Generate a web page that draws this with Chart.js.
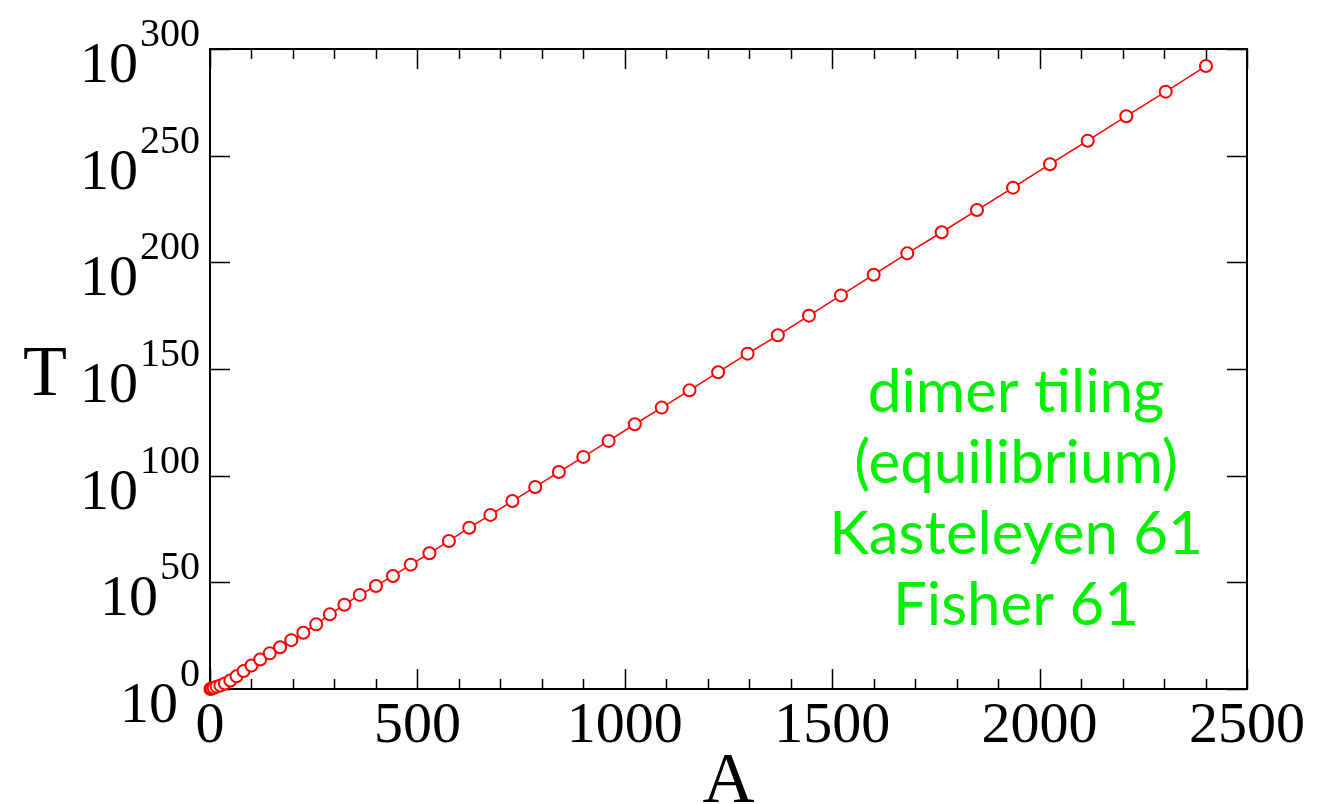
<!DOCTYPE html>
<html>
<head>
<meta charset="utf-8">
<script src="https://cdn.jsdelivr.net/npm/chart.js@4.4.1/dist/chart.umd.min.js"></script>
<style>
  html, body { margin: 0; padding: 0; background: #ffffff; }
  #box { width: 1339px; height: 804px; }
</style>
</head>
<body>
<div id="box"><canvas id="grafico"></canvas></div>
<script>
// area A = L*L of the lattice, L = 1..49
var areaA = [1, 4, 9, 16, 25, 36, 49, 64, 81, 100,
             121, 144, 169, 196, 225, 256, 289, 324, 361, 400,
             441, 484, 529, 576, 625, 676, 729, 784, 841, 900,
             961, 1024, 1089, 1156, 1225, 1296, 1369, 1444, 1521, 1600,
             1681, 1764, 1849, 1936, 2025, 2116, 2209, 2304, 2401];
// exponent of T (T = 10^x)
var esponenteT = [0, 0.3, 0.6, 1.1, 1.6, 2.6, 4.0, 6.0, 8.4, 11.0,
                  13.8, 16.7, 19.6, 22.9, 26.4, 30.3, 35.0, 39.5, 44.1, 48.3,
                  53.0, 58.3, 63.6, 69.4, 75.6, 81.6, 88.1, 94.7, 101.7, 108.8,
                  116.3, 124.1, 131.9, 140.0, 148.5, 157.2, 165.8, 175.0, 184.5, 194.2,
                  204.2, 214.1, 224.5, 235.0, 246.0, 257.0, 268.5, 280.0, 292.0];
var tickX = [0, 500, 1000, 1500, 2000, 2500];
var tickXMinori = [100, 200, 300, 400, 600, 700, 800, 900, 1100, 1200, 1300, 1400,
                   1600, 1700, 1800, 1900, 2100, 2200, 2300, 2400];
var esponentiY = [0, 50, 100, 150, 200, 250, 300];
var testoVerde = ['dimer tiling', '(equilibrium)', 'Kasteleyen 61', 'Fisher 61'];

var punti = [];
for (var i = 0; i < areaA.length; i++) {
    punti.push({ x: areaA[i], y: Math.pow(10, esponenteT[i]) });
}

var serif = '"Liberation Serif", "DejaVu Serif", serif';

// frame and inward ticks, drawn under the points
var cornice = {
    id: 'cornice',
    beforeDatasetsDraw: function (chart) {
        var ctx = chart.ctx;
        var a = chart.chartArea;
        var sx = chart.scales.x;
        var sy = chart.scales.y;
        ctx.save();
        ctx.strokeStyle = '#000';
        ctx.lineWidth = 1.5;
        ctx.beginPath();
        for (var i = 0; i < tickX.length; i++) {
            var px = Math.round(sx.getPixelForValue(tickX[i])) + 0.5;
            ctx.moveTo(px, a.bottom); ctx.lineTo(px, a.bottom - 20);
            ctx.moveTo(px, a.top); ctx.lineTo(px, a.top + 20);
        }
        for (var j = 0; j < tickXMinori.length; j++) {
            var qx = Math.round(sx.getPixelForValue(tickXMinori[j])) + 0.5;
            ctx.moveTo(qx, a.bottom); ctx.lineTo(qx, a.bottom - 10);
            ctx.moveTo(qx, a.top); ctx.lineTo(qx, a.top + 10);
        }
        for (var k = 0; k < esponentiY.length; k++) {
            var py = Math.round(sy.getPixelForValue(Math.pow(10, esponentiY[k]))) + 0.5;
            ctx.moveTo(a.left, py); ctx.lineTo(a.left + 20, py);
            ctx.moveTo(a.right, py); ctx.lineTo(a.right - 20, py);
        }
        ctx.stroke();
        ctx.lineWidth = 2;
        ctx.strokeRect(a.left, a.top, a.right - a.left, a.bottom - a.top);
        ctx.restore();
    },
    afterDraw: function (chart) {
        var ctx = chart.ctx;
        var a = chart.chartArea;
        var sx = chart.scales.x;
        var sy = chart.scales.y;
        ctx.save();
        ctx.fillStyle = '#000';
        // x tick labels
        ctx.font = '58px ' + serif;
        ctx.textAlign = 'center';
        ctx.textBaseline = 'alphabetic';
        for (var i = 0; i < tickX.length; i++) {
            ctx.fillText(String(tickX[i]), sx.getPixelForValue(tickX[i]), 742);
        }
        // y tick labels 10^n
        for (var k = 0; k < esponentiY.length; k++) {
            var py = sy.getPixelForValue(Math.pow(10, esponentiY[k]));
            var sup = String(esponentiY[k]);
            ctx.font = '40px ' + serif;
            ctx.textAlign = 'right';
            var wSup = ctx.measureText(sup).width;
            ctx.fillText(sup, a.left - 10, py - 3);
            ctx.font = '58px ' + serif;
            ctx.fillText('10', a.left - 12 - wSup, py + 33);
        }
        // axis titles
        ctx.font = '72px ' + serif;
        ctx.textAlign = 'center';
        ctx.fillText('T', 45, 395);
        ctx.fillText('A', (a.left + a.right) / 2, 802);
        // green annotation
        ctx.fillStyle = 'rgb(0,240,0)';
        ctx.font = '60px Lato, "Open Sans", sans-serif';
        var righe = [412, 483, 554, 625];
        for (var r = 0; r < testoVerde.length; r++) {
            ctx.fillText(testoVerde[r], 1016, righe[r]);
        }
        ctx.restore();
    }
};

var ctx = document.getElementById('grafico');
var chart = new Chart(ctx, {
    type: 'scatter',
    data: {
        datasets: [{
            data: punti,
            showLine: true,
            borderColor: 'rgb(255,0,0)',
            borderWidth: 1.5,
            pointRadius: 6,
            pointBorderWidth: 2,
            pointBackgroundColor: '#ffffff',
            pointBorderColor: 'rgb(255,0,0)',
            tension: 0,
            clip: false
        }]
    },
    options: {
        responsive: true,
        maintainAspectRatio: false,
        animation: false,
        layout: { padding: { left: 0, right: 92, top: 49, bottom: 0 } },
        plugins: { legend: { display: false }, tooltip: { enabled: false } },
        scales: {
            x: {
                type: 'linear',
                min: 0,
                max: 2500,
                grid: { display: false },
                border: { display: false },
                ticks: { display: false },
                afterFit: function (scale) { scale.height = 115; }
            },
            y: {
                type: 'logarithmic',
                min: 1,
                max: 1e300,
                grid: { display: false },
                border: { display: false },
                ticks: { display: false },
                afterBuildTicks: function (scale) {
                    scale.ticks = esponentiY.map(function (e) { return { value: Math.pow(10, e) }; });
                },
                afterFit: function (scale) { scale.width = 210; }
            }
        }
    },
    plugins: [cornice]
});
</script>
</body>
</html>
